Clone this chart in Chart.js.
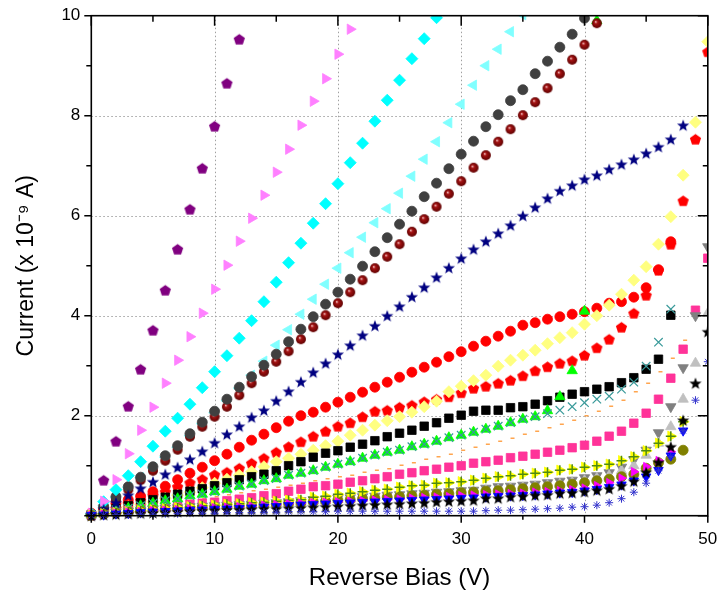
<!DOCTYPE html>
<html><head><meta charset="utf-8">
<script src="https://cdn.jsdelivr.net/npm/chart.js@4/dist/chart.umd.min.js"></script>
<style>html,body{margin:0;padding:0;background:#fff;}#wrap{width:720px;height:598px;}</style>
</head><body><div id="wrap"><canvas id="c" width="720" height="598"></canvas></div>
<script>
// ---------------- data ----------------
const voltage = [0,1,2,3,4,5,6,7,8,9,10,11,12,13,14,15,16,17,18,19,20,21,22,23,24,25,26,27,28,29,30,31,32,33,34,35,36,37,38,39,40,41,42,43,44,45,46,47,48,49,50];

const purplePentagon = [0.02,0.71,1.49,2.19,2.93,3.71,4.51,5.33,6.13,6.95,7.79,8.65,9.53];
const violetTriangle = [0.05,0.29,0.72,1.24,1.71,2.17,2.65,3.11,3.58,4.05,4.53,5.01,5.49,5.95,6.41,6.87,7.33,7.81,8.29,8.74,9.23,9.73];
const cyanDiamond = [0.04,0.28,0.52,0.8,1.08,1.39,1.69,1.95,2.23,2.56,2.88,3.2,3.55,3.9,4.28,4.67,5.06,5.45,5.85,6.24,6.64,7.06,7.45,7.89,8.31,8.71,9.14,9.54,9.96];
const lightCyanTriangle = [0.02,0.2,0.37,0.57,0.76,0.96,1.17,1.37,1.6,1.84,2.06,2.3,2.55,2.81,3.09,3.41,3.72,4.03,4.33,4.63,4.95,5.26,5.57,5.86,6.14,6.45,6.79,7.13,7.48,7.86,8.23,8.61,9.0,9.33,9.68,10.02];
const darkGrayCircle = [0.02,0.19,0.38,0.58,0.77,0.98,1.2,1.4,1.64,1.87,2.09,2.33,2.57,2.78,3.01,3.23,3.48,3.73,3.98,4.23,4.47,4.73,4.99,5.28,5.56,5.83,6.09,6.38,6.65,6.94,7.23,7.49,7.78,8.02,8.3,8.52,8.84,9.09,9.37,9.63,9.95];
const darkRedBall = [0.01,0.15,0.33,0.52,0.71,0.9,1.1,1.32,1.58,1.78,1.98,2.18,2.41,2.65,2.88,3.08,3.29,3.53,3.77,4.01,4.25,4.47,4.71,4.95,5.18,5.43,5.68,5.93,6.18,6.44,6.69,6.96,7.21,7.48,7.73,8.01,8.27,8.55,8.84,9.12,9.42,9.85];
const navyStar = [0.02,0.13,0.26,0.41,0.55,0.68,0.83,0.97,1.13,1.29,1.46,1.63,1.79,1.97,2.11,2.3,2.49,2.68,2.87,3.05,3.23,3.41,3.61,3.8,4.0,4.19,4.38,4.57,4.77,4.96,5.15,5.33,5.49,5.65,5.81,6.0,6.17,6.35,6.5,6.61,6.73,6.81,6.93,7.03,7.13,7.25,7.38,7.53,7.81];
const redCircle = [0.05,0.12,0.25,0.32,0.39,0.48,0.59,0.72,0.85,0.97,1.1,1.23,1.37,1.51,1.63,1.76,1.89,2.0,2.07,2.17,2.27,2.37,2.47,2.57,2.67,2.77,2.87,2.97,3.07,3.18,3.28,3.39,3.49,3.59,3.69,3.81,3.86,3.93,3.98,4.03,4.08,4.15,4.25,4.28,4.37,4.56,4.92,5.48];
const redPentagon = [0.02,0.1,0.15,0.25,0.31,0.41,0.48,0.58,0.66,0.73,0.82,0.87,0.95,1.05,1.15,1.27,1.38,1.48,1.59,1.69,1.79,1.86,1.98,2.09,2.11,2.17,2.21,2.28,2.33,2.38,2.46,2.55,2.59,2.65,2.71,2.8,2.9,2.98,3.05,3.1,3.21,3.36,3.53,3.77,4.05,4.41,4.91,5.43,6.3,7.53,9.28];
const yellowDiamond = [0.02,0.09,0.13,0.18,0.23,0.28,0.35,0.41,0.47,0.56,0.65,0.73,0.81,0.88,0.98,1.08,1.15,1.23,1.31,1.4,1.49,1.61,1.71,1.81,1.9,1.98,2.07,2.18,2.29,2.48,2.59,2.7,2.81,2.99,3.11,3.21,3.31,3.44,3.56,3.66,3.83,4.0,4.21,4.43,4.71,4.98,5.43,5.98,6.81,7.87,9.48];
const blackSquare = [0.02,0.08,0.14,0.2,0.26,0.32,0.37,0.43,0.49,0.54,0.6,0.66,0.72,0.78,0.83,0.9,1.0,1.08,1.17,1.25,1.3,1.37,1.43,1.5,1.58,1.65,1.71,1.79,1.86,1.95,2.01,2.09,2.11,2.11,2.16,2.18,2.23,2.3,2.37,2.43,2.48,2.53,2.58,2.66,2.76,2.93,3.13,4.01];
const greenTriangle = [0.02,0.09,0.12,0.15,0.2,0.25,0.3,0.34,0.4,0.43,0.48,0.53,0.59,0.63,0.7,0.74,0.81,0.85,0.9,0.97,1.03,1.08,1.15,1.21,1.27,1.31,1.38,1.43,1.49,1.56,1.61,1.67,1.73,1.79,1.86,1.93,1.98,2.1,2.38,2.9,4.09,9.9];
const tealCross = [0.02,0.09,0.12,0.15,0.2,0.25,0.3,0.34,0.4,0.43,0.48,0.53,0.59,0.63,0.7,0.74,0.81,0.85,0.9,0.97,1.03,1.08,1.15,1.21,1.27,1.31,1.38,1.43,1.49,1.56,1.61,1.67,1.73,1.79,1.86,1.93,1.98,2.04,2.11,2.18,2.26,2.33,2.39,2.53,2.67,2.99,3.47,4.13];
const orangeDash = [0.02,0.07,0.1,0.14,0.17,0.21,0.24,0.27,0.31,0.34,0.38,0.42,0.46,0.5,0.53,0.57,0.61,0.65,0.7,0.74,0.78,0.81,0.87,0.91,0.94,1.01,1.06,1.13,1.18,1.23,1.31,1.37,1.43,1.49,1.55,1.63,1.69,1.76,1.83,1.91,2.0,2.09,2.19,2.31,2.48,2.65,2.88,3.15,3.51,4.1,4.77];
const pinkSquare = [0.01,0.05,0.08,0.11,0.14,0.17,0.19,0.21,0.23,0.25,0.27,0.3,0.33,0.36,0.4,0.44,0.49,0.53,0.58,0.6,0.63,0.67,0.7,0.74,0.78,0.83,0.86,0.9,0.93,0.97,1.0,1.05,1.08,1.11,1.16,1.19,1.23,1.27,1.31,1.36,1.41,1.49,1.59,1.69,1.85,2.05,2.33,2.75,3.33,4.11,5.15];
const yellowTriangle = [0.01,0.04,0.06,0.08,0.1,0.12,0.14,0.16,0.18,0.2,0.21,0.23,0.24,0.26,0.27,0.29,0.31,0.32,0.37,0.39,0.43,0.45,0.48,0.51,0.53,0.57,0.6,0.61,0.65,0.66,0.68,0.71,0.75,0.78,0.8,0.83,0.85,0.87,0.91,0.93,0.97,1.0,1.03,1.1,1.18,1.3,1.45,1.59,1.88];
const olivePlus = [0.01,0.04,0.06,0.08,0.1,0.12,0.14,0.16,0.18,0.2,0.21,0.23,0.24,0.26,0.27,0.29,0.31,0.32,0.37,0.39,0.43,0.45,0.48,0.51,0.53,0.57,0.6,0.61,0.65,0.66,0.68,0.71,0.75,0.78,0.8,0.83,0.85,0.87,0.91,0.93,0.97,1.0,1.03,1.1,1.18,1.3,1.45,1.59,1.88];
const grayDownTriangle = [0.01,0.04,0.07,0.09,0.11,0.13,0.15,0.16,0.18,0.19,0.2,0.21,0.22,0.23,0.25,0.26,0.28,0.3,0.32,0.33,0.35,0.36,0.38,0.39,0.41,0.42,0.44,0.45,0.47,0.48,0.5,0.51,0.55,0.58,0.59,0.61,0.63,0.66,0.69,0.71,0.76,0.8,0.86,0.97,1.12,1.31,1.66,2.18,2.96,4.0,5.38];
const lightGrayTriangle = [0.01,0.03,0.06,0.08,0.1,0.12,0.13,0.15,0.16,0.17,0.18,0.19,0.2,0.21,0.23,0.24,0.26,0.27,0.29,0.3,0.32,0.33,0.35,0.36,0.38,0.39,0.41,0.42,0.44,0.45,0.47,0.48,0.5,0.52,0.54,0.56,0.58,0.6,0.63,0.66,0.7,0.75,0.8,0.9,1.0,1.21,1.45,1.78,2.33,3.05,4.05];
const oliveCircle = [0.01,0.03,0.05,0.07,0.09,0.11,0.12,0.14,0.15,0.16,0.17,0.18,0.19,0.2,0.22,0.23,0.25,0.26,0.28,0.29,0.31,0.32,0.34,0.35,0.37,0.38,0.4,0.41,0.43,0.44,0.46,0.47,0.49,0.5,0.52,0.54,0.56,0.58,0.6,0.63,0.66,0.7,0.73,0.78,0.83,0.95,1.06,1.13,1.31];
const magentaTriangle = [0.01,0.03,0.05,0.07,0.08,0.1,0.11,0.12,0.14,0.15,0.16,0.17,0.18,0.19,0.21,0.22,0.24,0.25,0.26,0.27,0.28,0.29,0.3,0.31,0.32,0.33,0.35,0.36,0.37,0.38,0.4,0.41,0.42,0.43,0.44,0.45,0.47,0.48,0.5,0.52,0.55,0.6,0.66,0.75,0.88,0.98,1.1,1.28];
const blueDownTriangle = [0.01,0.02,0.04,0.05,0.07,0.08,0.09,0.1,0.11,0.12,0.13,0.14,0.15,0.16,0.18,0.19,0.21,0.22,0.23,0.24,0.25,0.26,0.27,0.28,0.29,0.3,0.31,0.32,0.33,0.34,0.35,0.36,0.38,0.39,0.4,0.41,0.42,0.44,0.46,0.47,0.5,0.53,0.57,0.62,0.7,0.78,0.91,1.2,1.7];
const blackStar = [0.0,0.02,0.03,0.04,0.05,0.06,0.07,0.08,0.09,0.1,0.11,0.12,0.12,0.13,0.14,0.14,0.15,0.16,0.17,0.18,0.19,0.2,0.21,0.22,0.23,0.24,0.25,0.26,0.28,0.29,0.3,0.31,0.35,0.35,0.38,0.39,0.41,0.42,0.45,0.46,0.48,0.51,0.54,0.6,0.69,0.87,1.07,1.38,1.91,2.65,3.68];
const blueAsterisk = [0.0,0.01,0.02,0.02,0.03,0.03,0.04,0.04,0.05,0.05,0.05,0.06,0.06,0.06,0.07,0.07,0.08,0.08,0.08,0.08,0.09,0.09,0.09,0.09,0.09,0.09,0.09,0.09,0.09,0.09,0.09,0.09,0.1,0.11,0.11,0.12,0.13,0.14,0.15,0.17,0.18,0.21,0.26,0.34,0.47,0.65,0.9,1.18,1.7,2.31,3.08];

const xTickLabels = ['0','10','20','30','40','50'];
const yTickLabels = ['2','4','6','8','10'];

// ---------------- marker images ----------------
const FONT = "'Liberation Sans', Arial, Helvetica, sans-serif";
function markerCanvas(size, draw) {
  const c = document.createElement('canvas');
  c.width = size; c.height = size;
  draw(c.getContext('2d'), size / 2);
  return c;
}
function pentagonMarker(color) {
  return markerCanvas(13, (g, c) => {
    g.beginPath();
    for (let k = 0; k < 5; k++) {
      const a = -Math.PI / 2 + k * 2 * Math.PI / 5;
      const px = c + 5.9 * Math.cos(a), py = c + 0.6 + 5.9 * Math.sin(a);
      k ? g.lineTo(px, py) : g.moveTo(px, py);
    }
    g.closePath(); g.fillStyle = color; g.fill();
  });
}
function starMarker(color) {
  return markerCanvas(14, (g, c) => {
    g.beginPath();
    for (let k = 0; k < 10; k++) {
      const a = -Math.PI / 2 + k * Math.PI / 5;
      const r = k % 2 ? 2.7 : 6.4;
      const px = c + r * Math.cos(a), py = c + 0.6 + r * Math.sin(a);
      k ? g.lineTo(px, py) : g.moveTo(px, py);
    }
    g.closePath(); g.fillStyle = color; g.fill();
  });
}
function sphereMarker() {
  return markerCanvas(12, (g, c) => {
    const grad = g.createRadialGradient(c - 1.3, c - 1.5, 0.2, c, c, 5.2);
    grad.addColorStop(0, '#f4c0c0');
    grad.addColorStop(0.3, '#a31212');
    grad.addColorStop(1, '#5c0000');
    g.beginPath(); g.arc(c, c, 5, 0, Math.PI * 2);
    g.fillStyle = grad; g.fill();
  });
}

// ---------------- datasets (listed bottom layer first) ----------------
const seriesDefs = [
  {label: 'Device 1 (◀)', vals: lightCyanTriangle, style: 'triangle', rot: -90, r: 6, color: '#80FFFF'},
  {label: 'Device 8 (⬟)', vals: redPentagon, style: pentagonMarker('#FF0000'), color: '#FF0000'},
  {label: 'Device 9 (●)', vals: redCircle, style: 'circle', r: 5, color: '#FF0000'},
  {label: 'Device 10 (◆)', vals: yellowDiamond, style: 'rectRot', r: 6, color: '#FFFF80'},
  {label: 'Device 11 (■)', vals: blackSquare, style: 'rect', r: 6, color: '#000000'},
  {label: 'Device 12 (–)', vals: orangeDash, style: 'dash', r: 4, color: '#FFA54F', line: 1.5},
  {label: 'Device 13 (■)', vals: pinkSquare, style: 'rect', r: 6, color: '#FF3399'},
  {label: 'Device 14 (▲)', vals: greenTriangle, style: 'triangle', rot: 0, r: 6, color: '#00FF00'},
  {label: 'Device 15 (×)', vals: tealCross, style: 'crossRot', r: 6, color: '#3A9A9A', line: 1.2},
  {label: 'Device 2 (ball)', vals: darkRedBall, style: sphereMarker(), color: '#800000'},
  {label: 'Device 3 (●)', vals: darkGrayCircle, style: 'circle', r: 5, color: '#404040'},
  {label: 'Device 4 (◆)', vals: cyanDiamond, style: 'rectRot', r: 6, color: '#00FFFF'},
  {label: 'Device 5 (▶)', vals: violetTriangle, style: 'triangle', rot: 90, r: 6, color: '#FF80FF'},
  {label: 'Device 6 (⬟)', vals: purplePentagon, style: pentagonMarker('#800080'), color: '#800080'},
  {label: 'Device 7 (★)', vals: navyStar, style: starMarker('#000080'), color: '#000080'},
  {label: 'Device 16 (▼)', vals: grayDownTriangle, style: 'triangle', rot: 180, r: 6, color: '#808080'},
  {label: 'Device 17 (▲)', vals: lightGrayTriangle, style: 'triangle', rot: 0, r: 6, color: '#C0C0C0'},
  {label: 'Device 18 (●)', vals: oliveCircle, style: 'circle', r: 5, color: '#808000'},
  {label: 'Device 19 (▶)', vals: yellowTriangle, style: 'triangle', rot: 90, r: 6, color: '#FFFF00'},
  {label: 'Device 20 (+)', vals: olivePlus, style: 'cross', r: 5, color: '#4F8A10', line: 1.5},
  {label: 'Device 21 (▶)', vals: magentaTriangle, style: 'triangle', rot: 90, r: 5, color: '#FF00FF'},
  {label: 'Device 22 (▼)', vals: blueDownTriangle, style: 'triangle', rot: 180, r: 5.5, color: '#0000FF'},
  {label: 'Device 23 (★)', vals: blackStar, style: starMarker('#000000'), color: '#000000'},
  {label: 'Device 24 (✳)', vals: blueAsterisk, style: 'star', r: 4, color: '#3333CC', line: 1}
];

const N = seriesDefs.length;
const datasets = seriesDefs.map((s, i) => {
  const lineStyle = ['dash', 'cross', 'crossRot', 'star'].includes(s.style);
  return {
    label: s.label,
    data: s.vals.map((v, k) => ({x: voltage[k], y: v})),
    pointStyle: s.style,
    pointRotation: s.rot || 0,
    pointRadius: s.r || 6,
    pointHoverRadius: s.r || 6,
    backgroundColor: s.color,
    borderColor: s.color,
    borderWidth: lineStyle ? s.line : 0.8,
    showLine: false,
    order: N - 1 - i,
    clip: {left: 6, top: 0, right: 0, bottom: 6}
  };
});

// ---------------- frame, grid and tick marks ----------------
const framePlugin = {
  id: 'originFrame',
  beforeDatasetsDraw(chart) {
    const {ctx, chartArea: a, scales: {x, y}} = chart;
    ctx.save();
    ctx.strokeStyle = '#a0a0a0';
    ctx.lineWidth = 1;
    ctx.setLineDash([1.5, 2.5]);
    for (let v = 10; v < 50; v += 10) {
      const px = Math.round(x.getPixelForValue(v)) + 0.5;
      ctx.beginPath(); ctx.moveTo(px, a.top); ctx.lineTo(px, a.bottom); ctx.stroke();
    }
    for (let v = 2; v < 10; v += 2) {
      const py = Math.round(y.getPixelForValue(v)) + 0.5;
      ctx.beginPath(); ctx.moveTo(a.left, py); ctx.lineTo(a.right, py); ctx.stroke();
    }
    ctx.restore();
  },
  afterDatasetsDraw(chart) {
    const {ctx, chartArea: a, scales: {x, y}} = chart;
    ctx.save();
    ctx.strokeStyle = '#000';
    ctx.lineWidth = 1.6;
    ctx.setLineDash([]);
    ctx.strokeRect(a.left, a.top, a.right - a.left, a.bottom - a.top);
    ctx.lineWidth = 1.5;
    ctx.beginPath();
    for (let v = 0; v <= 50; v += 5) {
      const px = x.getPixelForValue(v);
      const major = v % 10 === 0;
      ctx.moveTo(px, a.bottom); ctx.lineTo(px, a.bottom + (major ? 7 : 4));
      ctx.moveTo(px, a.top); ctx.lineTo(px, a.top + (major ? 10 : 6));
    }
    for (let v = 0; v <= 10; v += 1) {
      const py = y.getPixelForValue(v);
      const major = v % 2 === 0;
      ctx.moveTo(a.left, py); ctx.lineTo(a.left - (major ? 7 : 5), py);
      ctx.moveTo(a.right, py); ctx.lineTo(a.right - (major ? 10 : 5), py);
    }
    ctx.stroke();
    ctx.restore();
  }
};

new Chart(document.getElementById('c'), {
  type: 'scatter',
  data: {datasets},
  options: {
    responsive: false,
    animation: false,
    devicePixelRatio: 1,
    events: [],
    layout: {padding: {top: 15.7, right: 12.2, left: 0, bottom: 0}},
    plugins: {legend: {display: false}, tooltip: {enabled: false}},
    scales: {
      x: {
        type: 'linear', min: 0, max: 50,
        afterFit(s) { s.height = 82.3; s.paddingLeft = 0; s.paddingRight = 0; },
        grid: {display: false, drawTicks: false},
        border: {display: false},
        ticks: {
          stepSize: 5, autoSkip: false, maxRotation: 0, padding: 13,
          color: '#000', font: {family: FONT, size: 17},
          callback: v => xTickLabels.includes(String(v)) ? String(v) : ''
        },
        title: {display: true, text: 'Reverse Bias (V)', color: '#000',
                font: {family: FONT, size: 24}, padding: {top: 0, bottom: 5.6}}
      },
      y: {
        type: 'linear', min: 0, max: 10,
        afterFit(s) { s.width = 91.3; s.paddingTop = 0; s.paddingBottom = 0; },
        grid: {display: false, drawTicks: false},
        border: {display: false},
        ticks: {
          stepSize: 1, autoSkip: false, padding: 11,
          color: '#000', font: {family: FONT, size: 17},
          callback: v => yTickLabels.includes(String(v)) ? String(v) : ''
        },
        title: {display: true, text: 'Current (x 10⁻⁹ A)', color: '#000',
                font: {family: FONT, size: 23}, padding: {top: 13.2, bottom: 0}}
      }
    }
  },
  plugins: [framePlugin]
});
</script>
</body></html>
